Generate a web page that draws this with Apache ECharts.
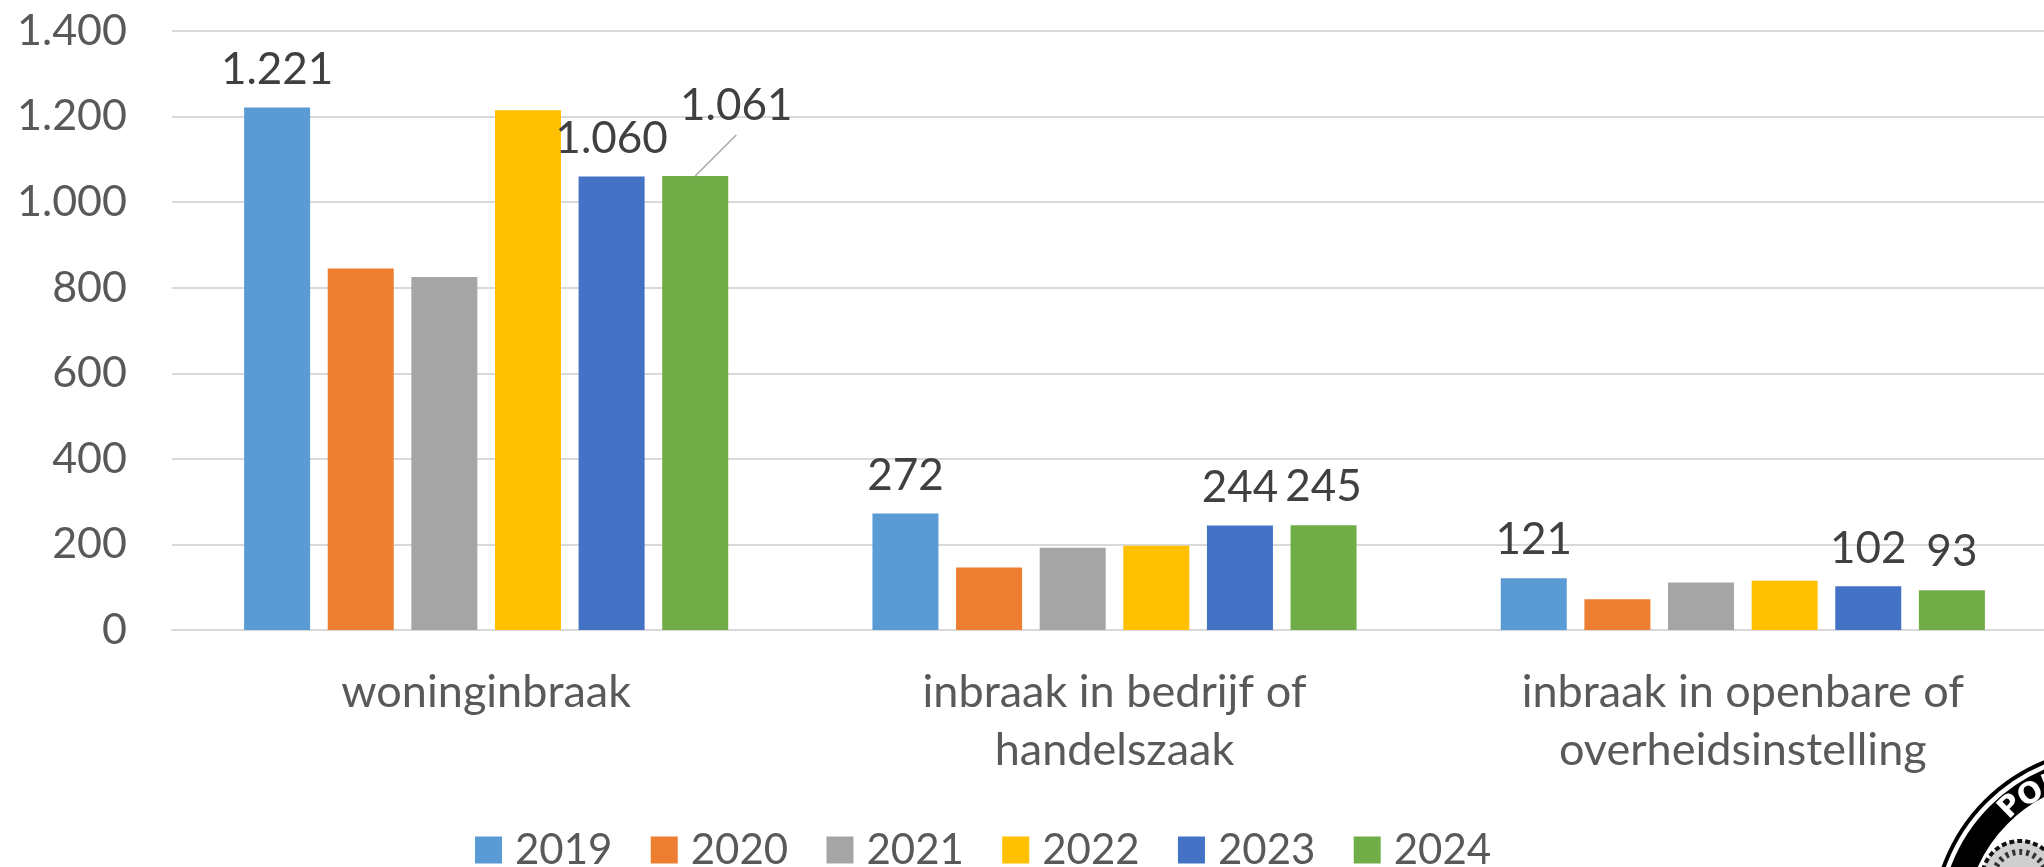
<!DOCTYPE html>
<html>
<head>
<meta charset="utf-8">
<style>html,body{margin:0;padding:0;background:#fff;overflow:hidden}#c{width:2044px;height:867px}</style>
<script src="https://cdn.jsdelivr.net/npm/echarts@6/dist/echarts.min.js"></script>
</head>
<body>
<div id="c"></div>
<script>
const categories = ['woninginbraak', 'inbraak in bedrijf of\nhandelszaak', 'inbraak in openbare of\noverheidsinstelling'];
const years = ['2019', '2020', '2021', '2022', '2023', '2024'];
const v2019 = [1221, 272, 121];
const v2020 = [845, 146, 72];
const v2021 = [825, 192, 111];
const v2022 = [1215, 197, 115];
const v2023 = [1060, 244, 102];
const v2024 = [1061, 245, 93];
const seriesValues = [v2019, v2020, v2021, v2022, v2023, v2024];
const colors = ['#5B9BD5', '#ED7D31', '#A5A5A5', '#FFC000', '#4472C4', '#70AD47'];
const labelledYears = ['2019', '2023', '2024'];
const fontFamily = 'Lato, Carlito, sans-serif';
const dotted = v => String(v).replace(/\B(?=(\d{3})+$)/g, '.');
const barWidth = 66;
const barGapRatio = 0.267;

const chart = echarts.init(document.getElementById('c'), null, {renderer: 'canvas'});

const sc = {x: 2112, y: 928};
const logo = [
  {type: 'circle', shape: {cx: sc.x, cy: sc.y, r: 179}, style: {fill: '#fff', stroke: '#000', lineWidth: 4}, z: 10},
  {type: 'circle', shape: {cx: sc.x, cy: sc.y, r: 160}, style: {fill: '#fff', stroke: '#000', lineWidth: 25}, z: 11},
  {type: 'circle', shape: {cx: 2020, cy: 879, r: 38}, style: {fill: '#cfcfcf', stroke: '#111', lineWidth: 4, lineDash: [5, 3]}, z: 12},
  {type: 'circle', shape: {cx: 2020, cy: 879, r: 27}, style: {fill: 'transparent', stroke: '#333', lineWidth: 6, lineDash: [3, 4]}, z: 12},
  {type: 'text', x: 2011, y: 807, rotation: 0.78, style: {text: 'P', fill: '#fff', font: 'bold 29px "DejaVu Sans"', align: 'center', verticalAlign: 'middle'}, z: 13},
  {type: 'text', x: 2031, y: 795, rotation: 0.55, style: {text: 'O', fill: '#fff', font: 'bold 29px "DejaVu Sans"', align: 'center', verticalAlign: 'middle'}, z: 13},
  {type: 'text', x: 2052, y: 785, rotation: 0.4, style: {text: 'L', fill: '#fff', font: 'bold 29px "DejaVu Sans"', align: 'center', verticalAlign: 'middle'}, z: 13}
];

chart.setOption({
  animation: false,
  backgroundColor: '#fff',
  textStyle: {fontFamily},
  grid: {left: 172, top: 31, width: 1885, height: 599, containLabel: false, outerBoundsMode: 'none'},
  legend: {
    left: 470, top: 824, itemWidth: 27, itemHeight: 27, itemGap: 38.3,
    icon: 'rect', data: years,
    textStyle: {fontSize: 42, color: '#595959', fontFamily, padding: [0, 0, 0, 8]}
  },
  xAxis: {
    type: 'category', data: categories,
    axisTick: {show: false},
    axisLine: {show: true, lineStyle: {color: '#d9d9d9', width: 2}},
    axisLabel: {fontSize: 45, color: '#595959', fontFamily, lineHeight: 58, margin: 33, interval: 0}
  },
  yAxis: {
    type: 'value', min: 0, max: 1400, interval: 200,
    axisLine: {show: false}, axisTick: {show: false},
    splitLine: {lineStyle: {color: '#d9d9d9', width: 2}},
    axisLabel: {fontSize: 43, color: '#595959', fontFamily, margin: 45, formatter: dotted}
  },
  series: years.map((y, i) => ({
    name: y, type: 'bar',
    data: seriesValues[i],
    barWidth: barWidth, barGap: (barGapRatio * 100) + '%',
    itemStyle: {color: colors[i]},
    label: {
      show: labelledYears.includes(y), position: 'top', distance: 16,
      fontSize: 44, color: '#404040', fontFamily,
      formatter: p => dotted(p.value)
    },
    labelLayout: y === '2024' ? (p => p.dataIndex === 0 ? {dx: 41, dy: -32} : {}) : undefined
  })),
  graphic: {elements: logo}
});

// Leader line of the moved 1.061 label, anchored on the bar through the chart's own scales.
const centre = chart.convertToPixel({xAxisIndex: 0, yAxisIndex: 0}, [0, v2024[0]]);
const offset = 2.5 * barWidth * (1 + barGapRatio);
const bx = centre[0] + offset, by = centre[1];
chart.setOption({
  graphic: {elements: logo.concat([{
    type: 'line', shape: {x1: bx, y1: by, x2: bx + 41, y2: by - 41},
    style: {stroke: '#a6a6a6', lineWidth: 1.5}, z: 9
  }])}
});
</script>
</body>
</html>
